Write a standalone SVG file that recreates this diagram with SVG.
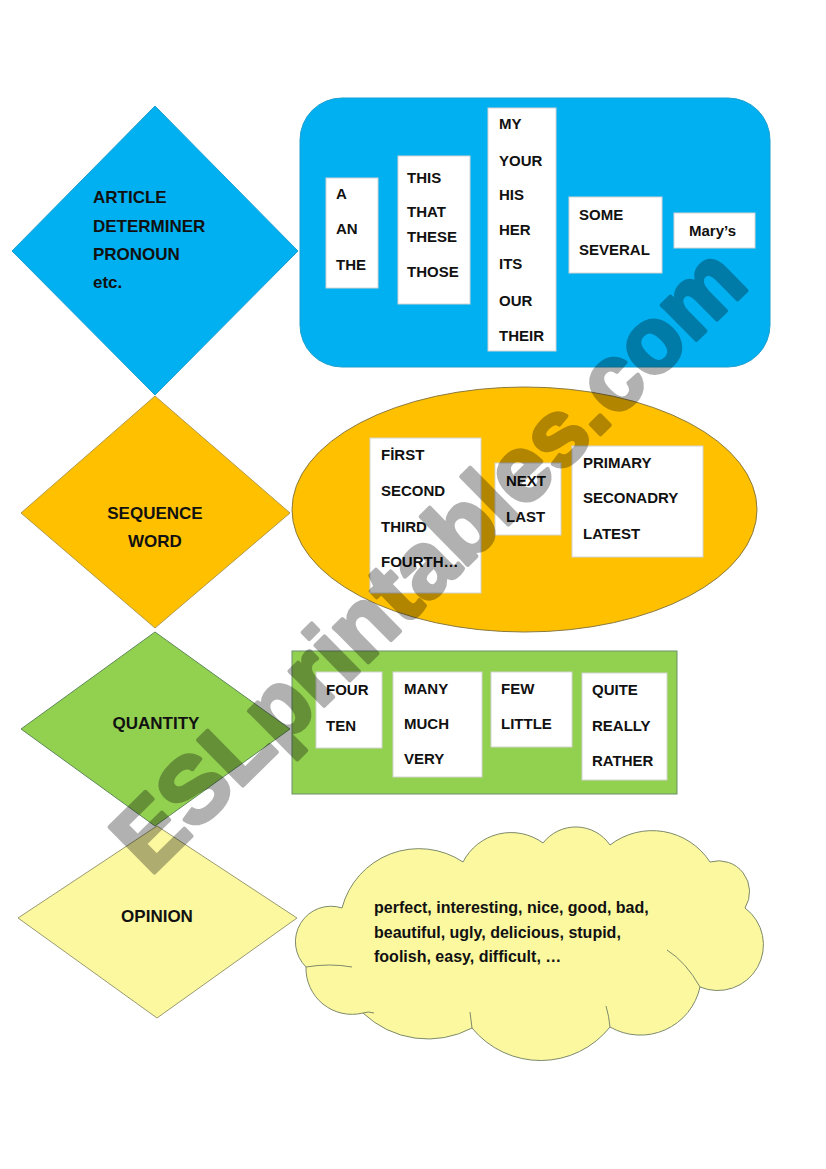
<svg xmlns="http://www.w3.org/2000/svg" width="826" height="1169" viewBox="0 0 826 1169">
<style>
  .t { font-family: "Liberation Sans", Arial, sans-serif; font-weight: bold; font-size: 15px; fill: #111; }
  .big { font-size: 17px; }
  .cl { font-size: 16px; }
  .mid { text-anchor: middle; }
  .box { fill: #ffffff; stroke: #d4d4d4; stroke-width: 1; }
  .edge { stroke-width: 1; }
  .wm { font-family: "Liberation Sans", Arial, sans-serif; font-weight: bold; font-size: 93px; fill: #000; stroke: #000; stroke-width: 4; stroke-linejoin: round; }
</style>
<rect x="0" y="0" width="826" height="1169" fill="#ffffff"/>

<g id="connectors"></g>

<!-- Row 1: ARTICLE / DETERMINER -->
<g id="diamond-article">
  <polygon class="edge" points="155,106 298,251 155,395 12,251" fill="#00B0F0" stroke="#1a9fd0"/>
  <text class="t big" x="93" y="203">ARTICLE</text>
  <text class="t big" x="93" y="232">DETERMINER</text>
  <text class="t big" x="93" y="260">PRONOUN</text>
  <text class="t big" x="93" y="288">etc.</text>
</g>
<g id="group-determiners">
  <rect class="edge" x="300" y="98" width="470" height="269" rx="42" ry="42" fill="#00B0F0" stroke="#1a9fd0"/>
  <g id="box-a">
    <rect class="box" x="326" y="178" width="52" height="110"/>
    <text class="t" x="336" y="199">A</text>
    <text class="t" x="336" y="234">AN</text>
    <text class="t" x="336" y="270">THE</text>
  </g>
  <g id="box-this">
    <rect class="box" x="398" y="156" width="72" height="148"/>
    <text class="t" x="407" y="183">THIS</text>
    <text class="t" x="407" y="217">THAT</text>
    <text class="t" x="407" y="242">THESE</text>
    <text class="t" x="407" y="277">THOSE</text>
  </g>
  <g id="box-my">
    <rect class="box" x="488" y="108" width="68" height="243"/>
    <text class="t" x="499" y="129">MY</text>
    <text class="t" x="499" y="166">YOUR</text>
    <text class="t" x="499" y="200">HIS</text>
    <text class="t" x="499" y="235">HER</text>
    <text class="t" x="499" y="269">ITS</text>
    <text class="t" x="499" y="306">OUR</text>
    <text class="t" x="499" y="341">THEIR</text>
  </g>
  <g id="box-some">
    <rect class="box" x="569" y="197" width="93" height="76"/>
    <text class="t" x="579" y="220">SOME</text>
    <text class="t" x="579" y="255">SEVERAL</text>
  </g>
  <g id="box-marys">
    <rect class="box" x="674" y="213" width="81" height="35"/>
    <text class="t" x="689" y="236">Mary’s</text>
  </g>
</g>

<!-- Row 2: SEQUENCE WORD -->
<g id="diamond-sequence">
  <polygon class="edge" points="155,396 290,513 155,628 21,513" fill="#FFC000" stroke="#b39a4a"/>
  <text class="t big mid" x="155" y="519">SEQUENCE</text>
  <text class="t big mid" x="155" y="547">WORD</text>
</g>
<g id="group-sequence">
  <ellipse class="edge" cx="524.5" cy="509.5" rx="232.5" ry="122.5" fill="#FFC000" stroke="#8a7a40"/>
  <g id="box-first">
    <rect class="box" x="370" y="438" width="111" height="155"/>
    <text class="t" x="381" y="460">FİRST</text>
    <text class="t" x="381" y="496">SECOND</text>
    <text class="t" x="381" y="532">THIRD</text>
    <text class="t" x="381" y="567">FOURTH…</text>
  </g>
  <g id="box-next">
    <rect class="box" x="495" y="463" width="66" height="72"/>
    <text class="t" x="506" y="486">NEXT</text>
    <text class="t" x="506" y="522">LAST</text>
  </g>
  <g id="box-primary">
    <rect class="box" x="572" y="446" width="131" height="111"/>
    <text class="t" x="583" y="468">PRIMARY</text>
    <text class="t" x="583" y="503">SECONADRY</text>
    <text class="t" x="583" y="539">LATEST</text>
  </g>
</g>

<!-- Row 4 diamond first so green overlaps it -->
<g id="diamond-opinion">
  <polygon class="edge" points="157,826 297,918 157,1018 18,918" fill="#FCF8A0" stroke="#9a9a70"/>
  <text class="t big mid" x="157" y="922">OPINION</text>
</g>

<!-- Row 3: QUANTITY -->
<g id="diamond-quantity">
  <polygon class="edge" points="155,632 290,729 155,826 21,729" fill="#92D050" stroke="#5f8a5a"/>
  <text class="t big mid" x="156" y="729">QUANTITY</text>
</g>
<g id="group-quantity">
  <rect class="edge" x="292" y="651" width="385" height="143" fill="#92D050" stroke="#6a8f6a"/>
  <g id="box-four">
    <rect class="box" x="316" y="672" width="66" height="76"/>
    <text class="t" x="326" y="695">FOUR</text>
    <text class="t" x="326" y="731">TEN</text>
  </g>
  <g id="box-many">
    <rect class="box" x="393" y="672" width="89" height="105"/>
    <text class="t" x="404" y="694">MANY</text>
    <text class="t" x="404" y="729">MUCH</text>
    <text class="t" x="404" y="764">VERY</text>
  </g>
  <g id="box-few">
    <rect class="box" x="491" y="672" width="81" height="75"/>
    <text class="t" x="501" y="694">FEW</text>
    <text class="t" x="501" y="729">LITTLE</text>
  </g>
  <g id="box-quite">
    <rect class="box" x="582" y="673" width="85" height="107"/>
    <text class="t" x="592" y="695">QUITE</text>
    <text class="t" x="592" y="731">REALLY</text>
    <text class="t" x="592" y="766">RATHER</text>
  </g>
</g>

<!-- Row 4: cloud -->
<g id="cloud-opinion">
  <path class="edge" fill="#FCF8A0" stroke="#7d8a6a"
        d="M342,908 A79.5,79.5 0 0 1 463,862 A54,54 0 0 1 543,843 A41.5,41.5 0 0 1 610,845 A69,69 0 0 1 710,862 A31,31 0 0 1 745,908 A45.8,45.8 0 0 1 700,987 A61,61 0 0 1 610,1027 A88.6,88.6 0 0 1 472,1028 A94,94 0 0 1 363,1013 A46,46 0 0 1 306,967 A35.5,35.5 0 0 1 342,908 Z"/>
  <path fill="none" stroke="#7d8a6a" stroke-width="1"
        d="M700,987 Q686,962 667,950 M610,1027 Q609,1016 606,1006 M472,1028 Q471,1020 470,1012 M363,1013 Q368,1011 374,1013 M306,967 Q330,963 352,967"/>
  <text class="t cl" x="374" y="913">perfect, interesting, nice, good, bad,</text>
  <text class="t cl" x="374" y="938">beautiful, ugly, delicious, stupid,</text>
  <text class="t cl" x="374" y="962">foolish, easy, difficult, …</text>
</g>

<!-- Watermark -->
<g opacity="0.3">
  <text class="wm" transform="translate(150,877) rotate(-44.5)">ESLprintables.com</text>
</g>
</svg>
